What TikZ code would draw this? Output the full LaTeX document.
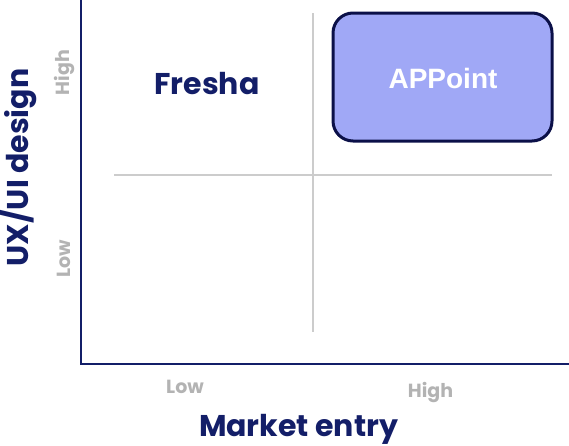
\documentclass[tikz,border=0pt]{standalone}
\usepackage{fontspec}
\setmainfont{Poppins}
\newfontfamily\arialfont{Liberation Sans}
\definecolor{navy}{HTML}{131E68}
\definecolor{boxnavy}{HTML}{0B1048}
\definecolor{boxfill}{HTML}{A0A8F6}
\definecolor{lowgray}{HTML}{B3B3B3}
\definecolor{gridgray}{HTML}{CCCCCC}
\tikzset{
  axisline/.style={draw=navy, line width=2pt},
  gridline/.style={draw=gridgray, line width=1.5pt},
  bigtitle/.style={text=navy, font=\fontsize{30}{32}\selectfont\bfseries, inner sep=0pt},
  ticklabel/.style={text=lowgray, font=\fontsize{19}{22}\selectfont\bfseries, inner sep=0pt},
  leader/.style={draw=boxnavy, fill=boxfill, line width=3pt, rounded corners=20pt},
}
\begin{document}
\begin{tikzpicture}[x=1pt,y=-1pt]
\useasboundingbox (0,0) rectangle (569,445);
% axes
\coordinate (top) at (81,0);
\coordinate (origin) at (81,364);
\coordinate (right) at (569,364);
\draw[axisline] (top) -- (origin) -- (right);
% quadrant lines
\coordinate (hl) at (114,175);
\coordinate (hr) at (552,175);
\coordinate (vt) at (313,13);
\coordinate (vb) at (313,332);
\draw[gridline] (hl) -- (hr);
\draw[gridline] (vt) -- (vb);
% APPoint box
\draw[leader] (333,13) rectangle (552,141);
\node[anchor=base, text=white, font=\arialfont\fontsize{28}{32}\selectfont\bfseries, inner sep=0pt] (appoint) at (443,88) {APPoint};
% Fresha
\node[bigtitle, anchor=base] (fresha) at (207,94) {Fresha};
% axis titles
\node[bigtitle, anchor=base] (xtitle) at (298.5,436) {Market entry};
\node[bigtitle, anchor=base, rotate=90] (ytitle) at (28,167.5) {UX/UI design};
% tick labels
\node[ticklabel, anchor=base] (xlow) at (185,393) {Low};
\node[ticklabel, anchor=base] (xhigh) at (430.5,397) {High};
\node[ticklabel, anchor=base, rotate=90] (yhigh) at (69,72.5) {High};
\node[ticklabel, anchor=base, rotate=90] (ylow) at (70,259) {Low};
\end{tikzpicture}
\end{document}
